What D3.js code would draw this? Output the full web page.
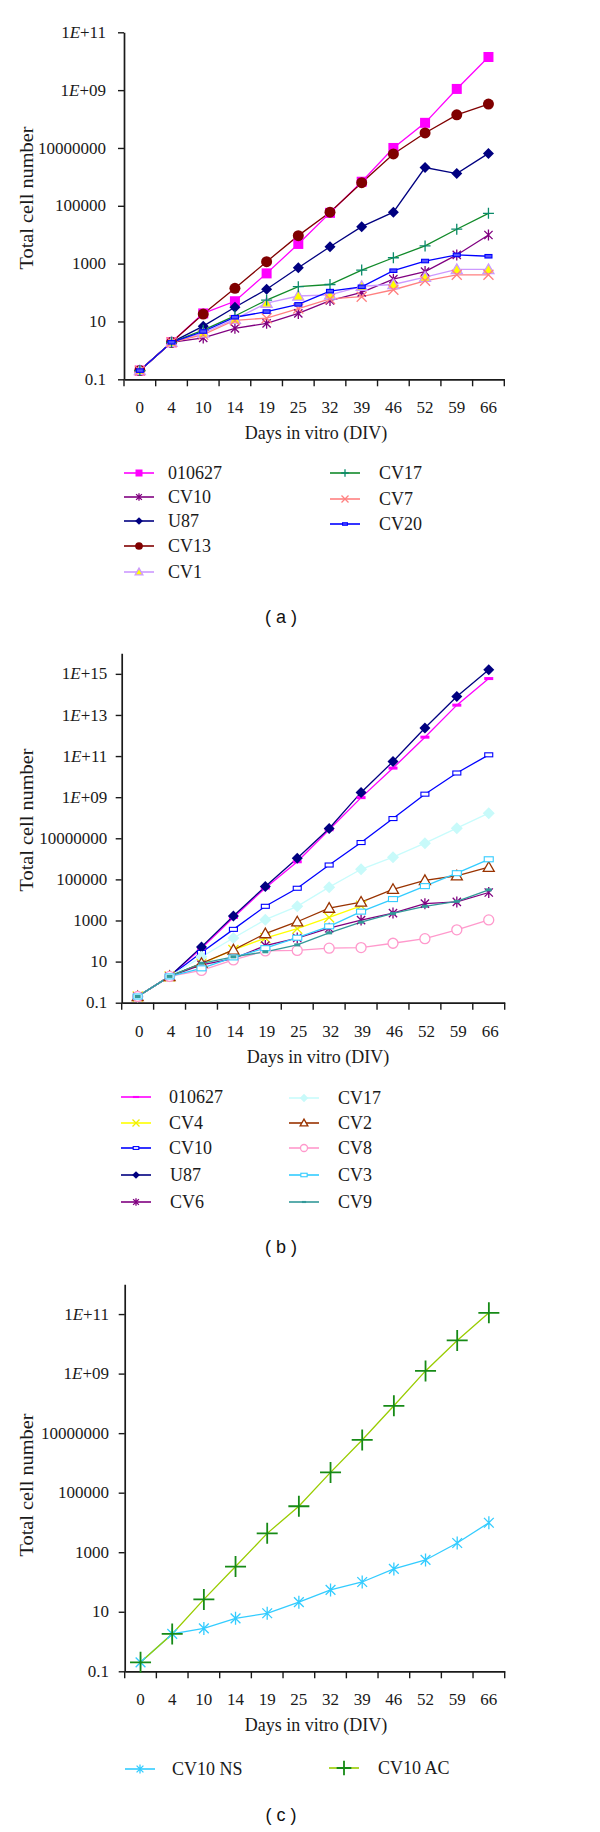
<!DOCTYPE html>
<html><head><meta charset="utf-8">
<script src="https://cdn.jsdelivr.net/npm/d3@7"></script>
<style>body{margin:0;background:#fff} svg{display:block}</style>
</head><body>
<svg id="c" width="600" height="1832"></svg>
<script>
// ---------- DATA ----------
const days = ["0","4","10","14","19","25","32","39","46","52","59","66"];
const yTickVals = [0.1, 10, 1000, 1e5, 1e7, 1e9, 1e11, 1e13, 1e15];
const yTickLabels = ["0.1","10","1000","100000","10000000","1E+09","1E+11","1E+13","1E+15"];

// chart (a)
const aNames = ["010627","CV10","U87","CV13","CV1","CV17","CV7","CV20"];
const a010627 = [0.2, 1.9, 19, 50, 460, 4800, 57000, 680000, 1.0e7, 7.4e7, 1.1e9, 1.4e10];
const aCV10   = [0.2, 1.9, 2.7, 5.8, 8.6, 19, 53, 102, 290, 530, 2000, 9800];
const aU87    = [0.2, 1.9, 6.9, 31, 130, 720, 3850, 19000, 60000, 2.1e6, 1.3e6, 6.5e6];
const aCV13   = [0.2, 1.9, 18, 140, 1170, 9300, 60000, 630000, 6.2e6, 3.3e7, 1.4e8, 3.3e8];
const aCV1    = [0.2, 1.9, 4, 12, 43, 76, 83, 165, 190, 340, 630, 630];
const aCV17   = [0.2, 1.9, 5, 15.5, 55, 160, 190, 600, 1600, 4100, 15500, 55000];
const aCV7    = [0.2, 1.9, 3.5, 11, 13, 28, 60, 72, 125, 255, 410, 410];
const aCV20   = [0.2, 1.9, 4.5, 14, 22, 39, 112, 158, 570, 1230, 2000, 1800];

// chart (b)
const bNames = ["010627","CV4","CV10","U87","CV6","CV17","CV2","CV8","CV3","CV9"];
const b010627 = [0.2, 1.9, 45, 1400, 38000, 720000, 2.6e7, 9.5e8, 2.6e10, 8.3e11, 3.0e13, 5.9e14];
const bCV4    = [0.2, 1.9, 8, 37, 140, 400, 1400, 5200];
const bCV10   = [0.2, 1.9, 28, 370, 4900, 37000, 500000, 6.2e6, 9.1e7, 1.4e9, 1.5e10, 1.15e11];
const bU87    = [0.2, 1.9, 52, 1650, 45000, 1.07e6, 3.0e7, 1.7e9, 5.4e10, 2.3e12, 7.9e13, 1.6e15];
const bCV6    = [0.2, 1.9, 6.9, 14, 60, 140, 420, 1050, 2300, 6600, 8000, 23000];
const bCV17   = [0.2, 1.9, 17, 140, 1100, 4900, 42000, 310000, 1.2e6, 5.8e6, 3.1e7, 1.66e8];
const bCV2    = [0.2, 1.9, 8.3, 37, 230, 870, 4000, 7900, 33000, 89000, 150000, 390000];
const bCV8    = [0.2, 1.9, 3.7, 12, 33, 35, 45, 48, 78, 130, 350, 1070];
const bCV3    = [0.2, 1.9, 4.7, 16, 45, 145, 520, 2700, 11000, 47000, 200000, 950000];
const bCV9    = [0.2, 1.9, 8.3, 17, 30, 65, 250, 830, 2200, 4900, 8500, 31000];

// chart (c)
const cNames = ["CV10 NS","CV10 AC"];
const cNS = [0.2, 1.8, 2.75, 6, 8.9, 21, 54, 100, 275, 550, 2040, 9800];
const cAC = [0.2, 1.8, 26, 330, 4300, 35000, 480000, 5.9e6, 8.3e7, 1.23e9, 1.3e10, 1.1e11];

const xTitle = "Days in vitro (DIV)";
const yTitle = "Total cell number";

// ---------- STYLES ----------
const stylesA = {
  "010627": {line:"#ff00ff", m:"square", size:10, fill:"#ff00ff"},
  "CV10":   {line:"#800080", m:"asterisk", size:11, stroke:"#800080"},
  "U87":    {line:"#000080", m:"diamond", size:11, fill:"#000080"},
  "CV13":   {line:"#800000", m:"circle", size:11, fill:"#800000"},
  "CV1":    {line:"#cc99ff", m:"triangle", size:11, fill:"#ffff00", stroke:"#cc99ff"},
  "CV17":   {line:"#118a2a", m:"plus", size:11, stroke:"#0a8a6a"},
  "CV7":    {line:"#ff8080", m:"x", size:10, stroke:"#ff8080"},
  "CV20":   {line:"#0000ff", m:"rect", w:7, h:3.5, fill:"#5555ff", stroke:"#0000ff"}
};
const stylesB = {
  "010627": {line:"#ff00ff", m:"rect", w:9, h:3, fill:"#ff00ff"},
  "CV4":    {line:"#ffff00", m:"x", size:10, stroke:"#eeee00"},
  "CV10":   {line:"#0000ff", m:"rect", w:8, h:4, fill:"#ffffff", stroke:"#0000ff"},
  "U87":    {line:"#000080", m:"diamond", size:11, fill:"#000080"},
  "CV6":    {line:"#800080", m:"asterisk", size:11, stroke:"#800080"},
  "CV17":   {line:"#c8fcfc", m:"diamond", size:12, fill:"#c8fafa"},
  "CV2":    {line:"#993300", m:"triangle", size:11, fill:"#ffffff", stroke:"#993300"},
  "CV8":    {line:"#ff99cc", m:"circle", size:10, fill:"#ffffff", stroke:"#ff99cc"},
  "CV3":    {line:"#33ccff", m:"rect", w:9, h:5, fill:"#ffffff", stroke:"#33ccff"},
  "CV9":    {line:"#339999", m:"rect", w:6, h:3, fill:"#339999"}
};
const stylesC = {
  "CV10 NS": {line:"#33ccff", m:"asterisk", size:13, stroke:"#33ccff"},
  "CV10 AC": {line:"#99cc00", m:"plus", size:21, stroke:"#168a16", sw:1.8}
};

const svg = d3.select("#c");
const SERIF = "'Liberation Serif','Times New Roman',serif";

function drawMarker(g, st, x, y, k) {
  const s = (st.size || 8) * k;
  const sw = (st.sw || 1.3);
  switch (st.m) {
    case "square":
      g.append("rect").attr("x", x - s/2).attr("y", y - s/2).attr("width", s).attr("height", s).attr("fill", st.fill);
      break;
    case "diamond":
      g.append("path").attr("d", `M${x},${y - s/2}L${x + s/2},${y}L${x},${y + s/2}L${x - s/2},${y}Z`).attr("fill", st.fill);
      break;
    case "circle":
      g.append("circle").attr("cx", x).attr("cy", y).attr("r", s/2).attr("fill", st.fill)
        .attr("stroke", st.stroke || "none").attr("stroke-width", sw);
      break;
    case "triangle":
      g.append("path").attr("d", `M${x},${y - s/2}L${x + s/2},${y + s/2 * 0.75}L${x - s/2},${y + s/2 * 0.75}Z`)
        .attr("fill", st.fill).attr("stroke", st.stroke).attr("stroke-width", sw);
      break;
    case "asterisk": {
      const r = s/2, d = r * 0.75;
      g.append("path").attr("d", `M${x},${y - r}L${x},${y + r}M${x - d},${y - d}L${x + d},${y + d}M${x - d},${y + d}L${x + d},${y - d}`)
        .attr("stroke", st.stroke).attr("stroke-width", sw).attr("fill", "none");
      break; }
    case "plus": {
      const r = s/2;
      g.append("path").attr("d", `M${x},${y - r}L${x},${y + r}M${x - r},${y}L${x + r},${y}`)
        .attr("stroke", st.stroke).attr("stroke-width", sw).attr("fill", "none");
      break; }
    case "x": {
      const r = s/2;
      g.append("path").attr("d", `M${x - r},${y - r}L${x + r},${y + r}M${x - r},${y + r}L${x + r},${y - r}`)
        .attr("stroke", st.stroke).attr("stroke-width", sw).attr("fill", "none");
      break; }
    case "rect": {
      const w = st.w * k, h = st.h * k;
      g.append("rect").attr("x", x - w/2).attr("y", y - h/2).attr("width", w).attr("height", h)
        .attr("fill", st.fill).attr("stroke", st.stroke || "none").attr("stroke-width", 1.1);
      break; }
  }
}

function tickLabel(sel, lbl) {
  const m = lbl.match(/^1E(\+\d+)$/);
  if (m) {
    sel.append("tspan").text("1");
    sel.append("tspan").attr("font-style", "italic").text("E");
    sel.append("tspan").text(m[1]);
  } else sel.text(lbl);
}

function drawChart(cfg) {
  const g = svg.append("g");
  const x = d3.scaleBand().domain(days).range([cfg.left, cfg.right]).padding(0);
  const y = d3.scaleLog().domain([0.1, cfg.yMax]).range([cfg.bottom, cfg.top]);
  const cx = d => x(d) + x.bandwidth() / 2;

  // y axis
  const nT = cfg.nTicks;
  const yAxis = d3.axisLeft(y).tickValues(yTickVals.slice(0, nT)).tickSize(6).tickSizeOuter(0).tickFormat("");
  const ya = g.append("g").attr("transform", `translate(${cfg.left},0)`).call(yAxis);
  ya.select(".domain").attr("stroke", "#1a1a1a").attr("stroke-width", 1.7);
  ya.selectAll(".tick line").attr("stroke", "#1a1a1a").attr("stroke-width", 1.4);
  yTickVals.slice(0, nT).forEach((v, i) => {
    const t = g.append("text").attr("x", cfg.labelRight).attr("y", y(v) + 5.6)
      .attr("text-anchor", "end").attr("font-family", SERIF).attr("font-size", 17).attr("fill", "#1a1a1a");
    tickLabel(t, yTickLabels[i]);
  });

  // x axis
  const xa = g.append("g").attr("transform", `translate(0,${cfg.bottom})`)
    .call(d3.axisBottom(x).tickSize(0).tickSizeOuter(0).tickFormat(""));
  xa.select(".domain").attr("stroke", "#1a1a1a").attr("stroke-width", 1.7);
  xa.selectAll(".tick line").remove();
  const bounds = days.map(d => x(d)).concat([x.range()[1]]);
  g.selectAll(null).data(bounds).enter().append("line")
    .attr("x1", d => d).attr("x2", d => d).attr("y1", cfg.bottom).attr("y2", cfg.bottom + 7)
    .attr("stroke", "#1a1a1a").attr("stroke-width", 1.4);
  g.selectAll(null).data(days).enter().append("text")
    .attr("x", d => cx(d) + (cfg.xLabelShift || 0)).attr("y", cfg.bottom + 34)
    .attr("text-anchor", "middle").attr("font-family", SERIF).attr("font-size", 17).attr("fill", "#1a1a1a")
    .text(d => d);

  // titles
  g.append("text").attr("x", cfg.xTitleX).attr("y", cfg.bottom + 60).attr("text-anchor", "middle")
    .attr("font-family", SERIF).attr("font-size", 18).attr("fill", "#1a1a1a").text(xTitle);
  g.append("text").attr("transform", `translate(33,${cfg.yTitleY}) rotate(-90)`).attr("text-anchor", "middle")
    .attr("font-family", SERIF).attr("font-size", 19.5).attr("fill", "#1a1a1a")
    .attr("textLength", 143).attr("lengthAdjust", "spacingAndGlyphs").text(yTitle);

  // series
  const line = d3.line().x((d, i) => cx(days[i])).y(d => y(d));
  cfg.series.forEach(s => {
    const st = cfg.styles[s.name];
    g.append("path").attr("d", line(s.values)).attr("fill", "none")
      .attr("stroke", st.line).attr("stroke-width", 1.3);
  });
  cfg.series.forEach(s => {
    const st = cfg.styles[s.name];
    const mg = g.append("g");
    s.values.forEach((v, i) => drawMarker(mg, st, cx(days[i]), y(v), 1));
  });

  // legend
  cfg.series.forEach((s, i) => {
    const st = cfg.styles[s.name];
    const L = cfg.legend[i];
    g.append("line").attr("x1", L.x).attr("x2", L.x + 30).attr("y1", L.y).attr("y2", L.y)
      .attr("stroke", st.line).attr("stroke-width", 1.6);
    drawMarker(g, st, L.x + 15, L.y, 0.7);
    g.append("text").attr("x", L.tx).attr("y", L.y + 6).attr("font-family", SERIF).attr("font-size", 18)
      .attr("fill", "#1a1a1a").text(s.name);
  });

  // caption
  svg.append("text").attr("x", 281).attr("y", cfg.capY).attr("text-anchor", "middle")
    .attr("font-family", "'Liberation Sans',Arial,sans-serif").attr("font-size", 18).attr("fill", "#111")
    .attr("xml:space", "preserve").text(cfg.caption);
}

// ---------- LAYOUT ----------
const legA = [
  {x:124, y:473, tx:168}, {x:124, y:497, tx:168}, {x:124, y:521, tx:168}, {x:124, y:546, tx:168}, {x:124, y:572, tx:168},
  {x:330, y:473, tx:379}, {x:330, y:499, tx:379}, {x:330, y:524, tx:379}
];
const legB = [
  {x:121, y:1097, tx:169}, {x:121, y:1123, tx:169}, {x:121, y:1148, tx:169}, {x:121, y:1175, tx:170}, {x:121, y:1202, tx:170},
  {x:289, y:1098, tx:338}, {x:289, y:1123, tx:338}, {x:289, y:1148, tx:338}, {x:289, y:1175, tx:338}, {x:289, y:1202, tx:338}
];
const legC = [{x:125, y:1769, tx:172}, {x:329, y:1768, tx:378}];

const seriesA = [a010627, aCV10, aU87, aCV13, aCV1, aCV17, aCV7, aCV20].map((v, i) => ({name: aNames[i], values: v}));
const seriesB = [b010627, bCV4, bCV10, bU87, bCV6, bCV17, bCV2, bCV8, bCV3, bCV9].map((v, i) => ({name: bNames[i], values: v}));
const seriesC = [cNS, cAC].map((v, i) => ({name: cNames[i], values: v}));

drawChart({left:124, right:504.3, top:32.3, bottom:379.3, yMax:1e11, nTicks:7, labelRight:106,
  xTitleX:316, yTitleY:198, series:seriesA, styles:stylesA, legend:legA, caption:"( a )", capY:623.4});
drawChart({left:121.7, right:504.7, top:653.3, bottom:1002.7, yMax:1e16, nTicks:9, labelRight:107.3, xLabelShift:1.5,
  xTitleX:318, yTitleY:820, series:seriesB, styles:stylesB, legend:legB, caption:"( b )", capY:1253});
drawChart({left:124.7, right:504.7, top:1284.3, bottom:1671.3, yMax:1e12, nTicks:7, labelRight:109,
  xTitleX:316, yTitleY:1485, series:seriesC, styles:stylesC, legend:legC, caption:"( c )", capY:1821.4});
</script>
</body></html>
